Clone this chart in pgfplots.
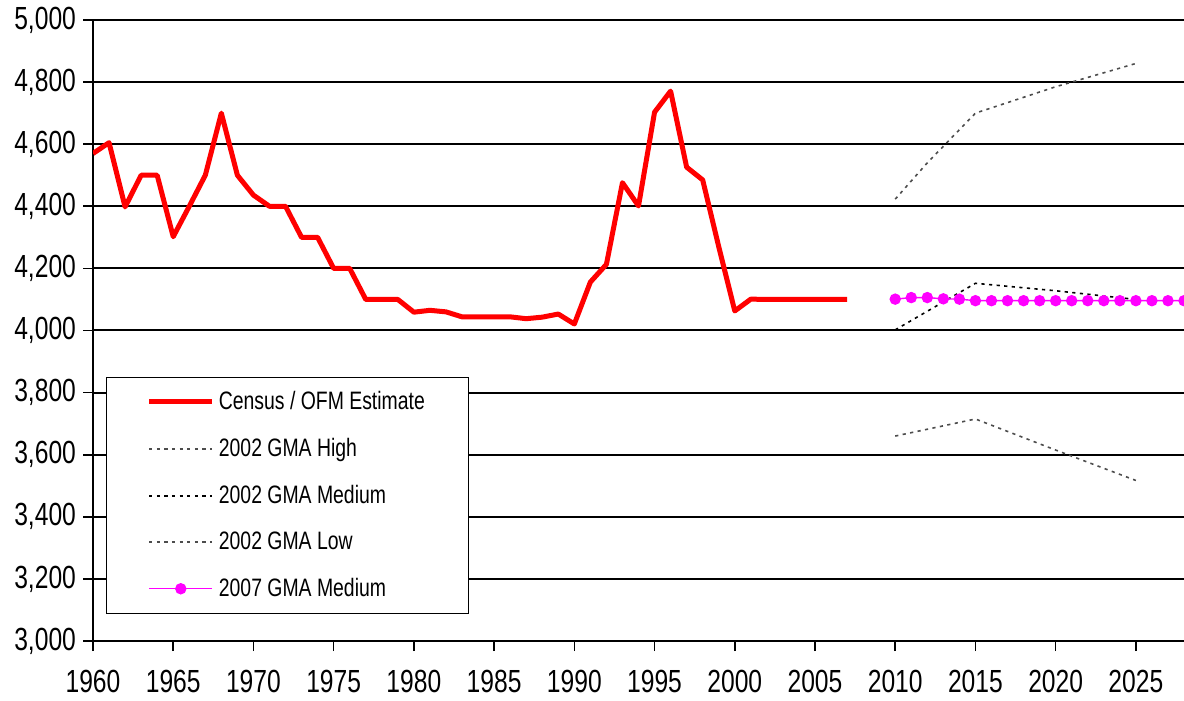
\documentclass[border=0pt]{standalone}
\usepackage{fontspec}
\setmainfont{Liberation Sans}[FakeStretch=0.77]
\usepackage{pgfplots}
\pgfplotsset{compat=1.18}
\usetikzlibrary{calc}

\pgfplotstableread{
year pop
1960 4570
1961 4605
1962 4398
1963 4500
1964 4500
1965 4302
1966 4400
1967 4500
1968 4700
1969 4500
1970 4436
1971 4400
1972 4400
1973 4300
1974 4300
1975 4200
1976 4200
1977 4100
1978 4100
1979 4100
1980 4059
1981 4065
1982 4060
1983 4044
1984 4044
1985 4044
1986 4044
1987 4038
1988 4043
1989 4053
1990 4021
1991 4156
1992 4213
1993 4476
1994 4401
1995 4703
1996 4771
1997 4526
1998 4485
1999 4270
2000 4063
2001 4101
2002 4100
2003 4100
2004 4100
2005 4100
2006 4100
2007 4100
}\census

\pgfplotstableread{
year pop
2010 4423
2012 4540
2015 4700
2020 4785
2025 4860
}\gmahigh

\pgfplotstableread{
year pop
2010 4002
2015 4152
2020 4128
2025 4100
}\gmamed

\pgfplotstableread{
year pop
2010 3660
2015 3715
2020 3615
2025 3517
}\gmalow

\pgfplotstableread{
year pop
2010 4101
2011 4106
2012 4106
2013 4102
2014 4101
2015 4096
2016 4096
2017 4096
2018 4096
2019 4096
2020 4096
2021 4096
2022 4096
2023 4096
2024 4096
2025 4096
2026 4096
2027 4096
2028 4096
2029 4096
}\gmanew

\definecolor{ofmred}{RGB}{255,0,0}
\definecolor{gmamag}{RGB}{255,0,255}

\tikzset{
  proj/.style={line width=0.8pt, dash pattern=on 1.6pt off 2.2pt},
}

\begin{document}
\begin{tikzpicture}
\begin{axis}[
  scale only axis, width=545.5pt, height=310.5pt,
  xmin=1960, xmax=2028, ymin=3000, ymax=5000,
  axis x line=bottom, axis y line=left,
  axis line style={line width=1pt, -},
  xtick={1960,1965,...,2025},
  ytick={3000,3200,...,5000},
  ymajorgrids, major grid style={line width=1pt, black},
  tick align=outside, major tick length=5pt,
  tick style={line width=0.8pt, black},
  /pgf/number format/assume math mode=true,
  xticklabel style={/pgf/number format/1000 sep={}, yshift=-6pt},
  yticklabel style={/pgf/number format/1000 sep={,}},
  tick label style={font=\fontsize{16}{19}\selectfont},
  legend cell align=left,
  legend style={at={(0.012,0.0435)}, anchor=south west, draw=black, line width=0.6pt,
    font=\fontsize{12.6}{15}\selectfont, inner xsep=20pt, inner ysep=5pt, row sep=8.8pt,
    nodes={inner sep=2pt}},
  legend image code/.code={\draw[mark repeat=2, mark phase=2, #1] plot coordinates {(0pt,0pt) (15.8pt,0pt) (31.6pt,0pt)};},
]
\coordinate (sw) at (rel axis cs:0,0);
\coordinate (ne) at (rel axis cs:1,1);
\addplot[ofmred, line width=2.5pt, line join=round] table[x=year,y=pop] {\census};
\addlegendentry{Census / OFM Estimate}
\addplot[proj, black!70] table[x=year,y=pop] {\gmahigh};
\addlegendentry{2002 GMA High}
\addplot[proj, black] table[x=year,y=pop] {\gmamed};
\addlegendentry{2002 GMA Medium}
\addplot[proj, black!70] table[x=year,y=pop] {\gmalow};
\addlegendentry{2002 GMA Low}
\addplot[gmamag, line width=0.7pt, mark=*, mark size=2.5pt, mark options={fill=gmamag, draw=gmamag, solid}]
  table[x=year,y=pop] {\gmanew};
\addlegendentry{2007 GMA Medium}
\end{axis}
\pgfresetboundingbox
\path ($(sw)+(-46.5pt,-29.5pt)$) rectangle ($(ne)+(0pt,10pt)$);
\end{tikzpicture}
\end{document}
